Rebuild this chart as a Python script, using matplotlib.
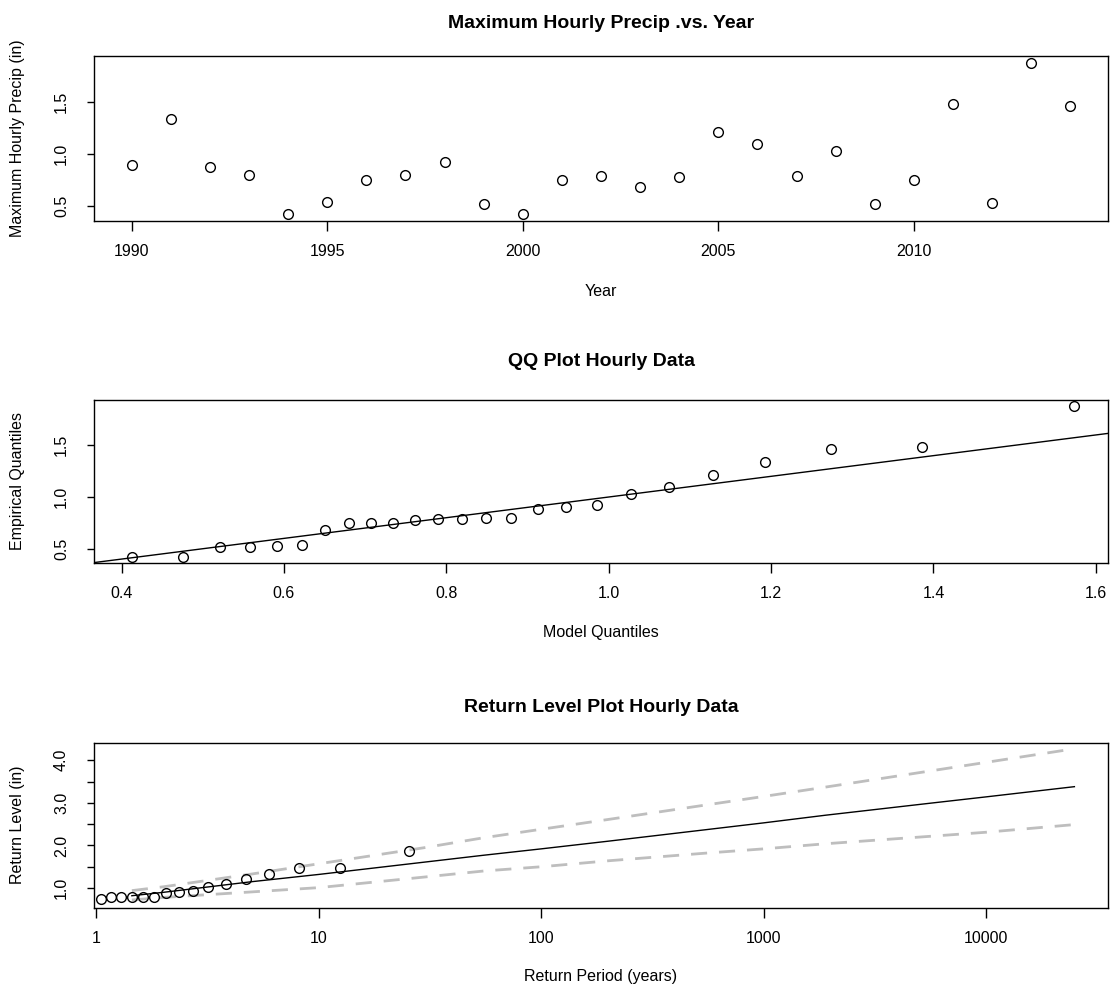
import matplotlib
matplotlib.use("Agg")
import matplotlib.pyplot as plt
import numpy as np

plt.rcParams['font.family'] = ['Liberation Sans', 'DejaVu Sans']

# Annual maximum hourly precipitation (in)
years = list(range(1990, 2015))
max_precip = [0.90, 1.34, 0.88, 0.80, 0.42, 0.54, 0.75, 0.80, 0.92, 0.52,
              0.42, 0.75, 0.79, 0.68, 0.78, 1.21, 1.10, 0.79, 1.03, 0.52,
              0.75, 1.48, 0.53, 1.88, 1.46]

# QQ plot: fitted model quantiles vs sorted data
model_q = [0.413, 0.476, 0.521, 0.558, 0.592, 0.622, 0.651, 0.680, 0.707,
           0.734, 0.762, 0.790, 0.819, 0.849, 0.880, 0.913, 0.948, 0.985,
           1.027, 1.074, 1.129, 1.193, 1.274, 1.386, 1.573]
emp_q = sorted(max_precip)

# Return level plot: empirical points visible on the axis (largest 16 values)
emp_period = [1.046, 1.163, 1.293, 1.443, 1.615, 1.818, 2.060, 2.355, 2.720,
              3.187, 3.812, 4.685, 5.990, 8.160, 12.49, 25.49]
emp_level = emp_q[-len(emp_period):]
# fitted return level curve and confidence bounds
rl_period = [1.443, 2, 5, 10, 30, 55, 100, 200, 550, 1000, 1900, 5800, 10000, 25000]
rl_est = [0.82, 0.90, 1.15, 1.32, 1.61, 1.77, 1.92, 2.10, 2.37, 2.53, 2.71, 3.00, 3.14, 3.38]
rl_upper = [0.94, 1.03, 1.33, 1.57, 1.95, 2.18, 2.38, 2.61, 2.95, 3.15, 3.37, 3.76, 3.95, 4.27]
rl_lower = [0.72, 0.78, 0.91, 1.01, 1.26, 1.40, 1.50, 1.64, 1.82, 1.92, 2.04, 2.22, 2.31, 2.49]

W, H = 1110, 985
fig = plt.figure(figsize=(W / 100, H / 100), dpi=100)


def make_axes(left, top, right, bottom):
    return fig.add_axes([left / W, 1 - bottom / H, (right - left) / W, (bottom - top) / H])


def style(ax):
    for s in ax.spines.values():
        s.set_linewidth(1.0)
    ax.tick_params(axis='x', direction='out', length=7.5, width=1.0, labelsize=11.5, pad=9)
    ax.tick_params(axis='y', direction='out', length=5, width=1.0, labelsize=11.5, pad=13)
    ax.minorticks_off()


def rot_yticks(ax, ticks, labels):
    ax.set_yticks(ticks)
    ax.set_yticklabels(labels, rotation=90, va='center')


def fig_text(x, y, s, **kw):
    fig.text(x / W, 1 - y / H, s, ha='center', va='center', **kw)


circle = dict(marker='o', linestyle='none', markersize=7, markerfacecolor='none',
              markeredgecolor='black', markeredgewidth=1.0)

# Panel 1: maximum hourly precip vs year
ax1 = make_axes(94, 56, 1108, 221)
ax1.plot(years, max_precip, **circle)
ax1.set_xlim(1989.04, 2014.96)
ax1.set_ylim(0.355, 1.947)
ax1.set_xticks([1990, 1995, 2000, 2005, 2010])
rot_yticks(ax1, [0.5, 1.0, 1.5], ['0.5', '1.0', '1.5'])
style(ax1)
fig_text(601, 24, 'Maximum Hourly Precip .vs. Year', fontsize=14, fontweight='bold')
fig_text(601, 291, 'Year', fontsize=11.5)
fig_text(18, 138, 'Maximum Hourly Precip (in)', fontsize=11.5, rotation=90)

# Panel 2: QQ plot
ax2 = make_axes(94, 400, 1108, 563)
ax2.plot(model_q, emp_q, **circle)
ax2.set_xlim(0.366, 1.615)
ax2.set_ylim(0.362, 1.938)
ax2.axline((0, 0), slope=1, color='black', lw=1.0)
ax2.set_xticks([0.4, 0.6, 0.8, 1.0, 1.2, 1.4, 1.6])
ax2.set_xticklabels(['0.4', '0.6', '0.8', '1.0', '1.2', '1.4', '1.6'])
rot_yticks(ax2, [0.5, 1.0, 1.5], ['0.5', '1.0', '1.5'])
style(ax2)
fig_text(601, 362, 'QQ Plot Hourly Data', fontsize=14, fontweight='bold')
fig_text(601, 633, 'Model Quantiles', fontsize=11.5)
fig_text(18, 481, 'Empirical Quantiles', fontsize=11.5, rotation=90)

# Panel 3: return level plot
ax3 = make_axes(94, 743, 1108, 908)
ax3.set_xscale('log')
ax3.plot(rl_period, rl_upper, color='#BEBEBE', lw=2.0, dashes=(5.8, 4.3))
ax3.plot(rl_period, rl_lower, color='#BEBEBE', lw=2.0, dashes=(5.8, 4.3))
ax3.plot(rl_period, rl_est, color='black', lw=1.0)
ax3.plot(emp_period, emp_level, **circle)
ax3.set_xlim(0.975, 35400)
ax3.set_ylim(0.532, 4.405)
ax3.set_xticks([1, 10, 100, 1000, 10000])
ax3.set_xticklabels(['1', '10', '100', '1000', '10000'])
rot_yticks(ax3, [1.0, 1.5, 2.0, 2.5, 3.0, 3.5, 4.0],
           ['1.0', '', '2.0', '', '3.0', '', '4.0'])
style(ax3)
fig_text(601, 707, 'Return Level Plot Hourly Data', fontsize=14, fontweight='bold')
fig_text(601, 976, 'Return Period (years)', fontsize=11.5)
fig_text(18, 825, 'Return Level (in)', fontsize=11.5, rotation=90)

fig.savefig('out.png', dpi=100)
